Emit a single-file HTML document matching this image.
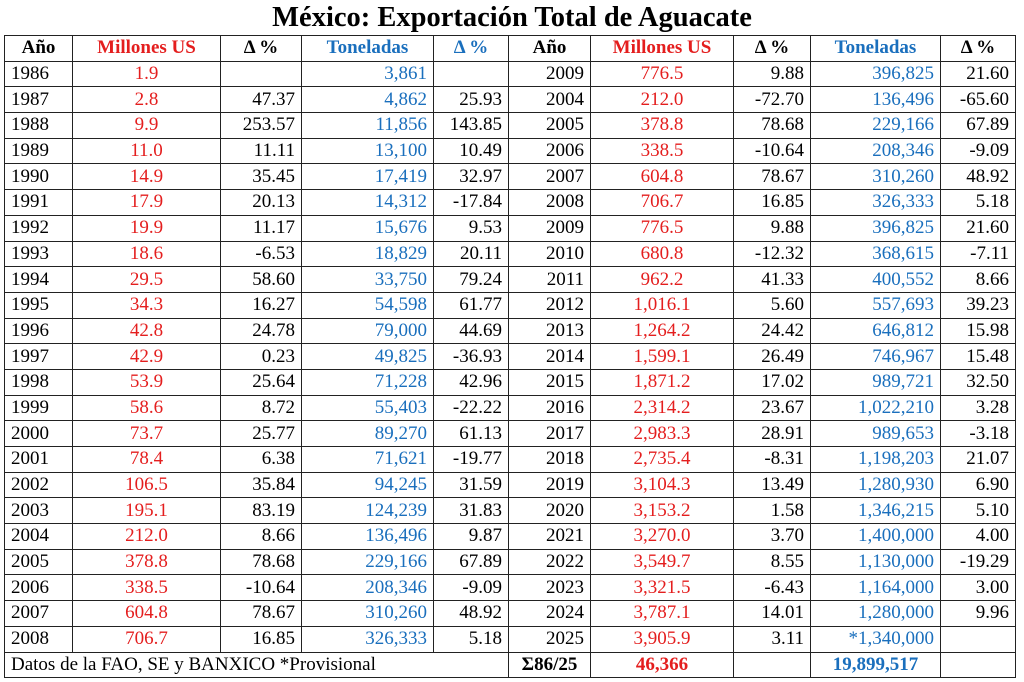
<!DOCTYPE html>
<html><head><meta charset="utf-8"><style>
body{margin:0;width:1024px;height:682px;background:#fff;font-family:"Liberation Serif",serif;overflow:hidden}
h1{position:absolute;top:0;left:0;width:1024px;margin:0;text-align:center;font-size:28.5px;line-height:35px;font-weight:bold;color:#000}
table{position:absolute;left:4px;top:35px;border-collapse:collapse;table-layout:fixed;width:1011px}
td,th{border:1.5px solid #222;height:24.7px;padding:0 6px;font-size:19px;line-height:24px;white-space:nowrap;overflow:hidden}
th{font-weight:bold;text-align:center}
.r{color:#e41e1e;text-align:center}.b{color:#1a6fbd;text-align:right}
.n{text-align:right}.y1{text-align:left}.y2{text-align:right}
</style></head><body>
<h1>México: Exportación Total de Aguacate</h1>
<table>
<colgroup><col style="width:68px"><col style="width:148px"><col style="width:81px"><col style="width:132px"><col style="width:75px"><col style="width:82px"><col style="width:143px"><col style="width:77px"><col style="width:130px"><col style="width:75px"></colgroup>
<tr><th>Año</th><th class="r">Millones US</th><th>Δ %</th><th class="b" style="text-align:center">Toneladas</th><th class="b" style="text-align:center">Δ %</th><th>Año</th><th class="r">Millones US</th><th>Δ %</th><th class="b" style="text-align:center">Toneladas</th><th>Δ %</th></tr>
<tr><td class="y1">1986</td><td class="r">1.9</td><td class="n"></td><td class="b">3,861</td><td class="n"></td><td class="y2">2009</td><td class="r">776.5</td><td class="n">9.88</td><td class="b">396,825</td><td class="n">21.60</td></tr>
<tr><td class="y1">1987</td><td class="r">2.8</td><td class="n">47.37</td><td class="b">4,862</td><td class="n">25.93</td><td class="y2">2004</td><td class="r">212.0</td><td class="n">-72.70</td><td class="b">136,496</td><td class="n">-65.60</td></tr>
<tr><td class="y1">1988</td><td class="r">9.9</td><td class="n">253.57</td><td class="b">11,856</td><td class="n">143.85</td><td class="y2">2005</td><td class="r">378.8</td><td class="n">78.68</td><td class="b">229,166</td><td class="n">67.89</td></tr>
<tr><td class="y1">1989</td><td class="r">11.0</td><td class="n">11.11</td><td class="b">13,100</td><td class="n">10.49</td><td class="y2">2006</td><td class="r">338.5</td><td class="n">-10.64</td><td class="b">208,346</td><td class="n">-9.09</td></tr>
<tr><td class="y1">1990</td><td class="r">14.9</td><td class="n">35.45</td><td class="b">17,419</td><td class="n">32.97</td><td class="y2">2007</td><td class="r">604.8</td><td class="n">78.67</td><td class="b">310,260</td><td class="n">48.92</td></tr>
<tr><td class="y1">1991</td><td class="r">17.9</td><td class="n">20.13</td><td class="b">14,312</td><td class="n">-17.84</td><td class="y2">2008</td><td class="r">706.7</td><td class="n">16.85</td><td class="b">326,333</td><td class="n">5.18</td></tr>
<tr><td class="y1">1992</td><td class="r">19.9</td><td class="n">11.17</td><td class="b">15,676</td><td class="n">9.53</td><td class="y2">2009</td><td class="r">776.5</td><td class="n">9.88</td><td class="b">396,825</td><td class="n">21.60</td></tr>
<tr><td class="y1">1993</td><td class="r">18.6</td><td class="n">-6.53</td><td class="b">18,829</td><td class="n">20.11</td><td class="y2">2010</td><td class="r">680.8</td><td class="n">-12.32</td><td class="b">368,615</td><td class="n">-7.11</td></tr>
<tr><td class="y1">1994</td><td class="r">29.5</td><td class="n">58.60</td><td class="b">33,750</td><td class="n">79.24</td><td class="y2">2011</td><td class="r">962.2</td><td class="n">41.33</td><td class="b">400,552</td><td class="n">8.66</td></tr>
<tr><td class="y1">1995</td><td class="r">34.3</td><td class="n">16.27</td><td class="b">54,598</td><td class="n">61.77</td><td class="y2">2012</td><td class="r">1,016.1</td><td class="n">5.60</td><td class="b">557,693</td><td class="n">39.23</td></tr>
<tr><td class="y1">1996</td><td class="r">42.8</td><td class="n">24.78</td><td class="b">79,000</td><td class="n">44.69</td><td class="y2">2013</td><td class="r">1,264.2</td><td class="n">24.42</td><td class="b">646,812</td><td class="n">15.98</td></tr>
<tr><td class="y1">1997</td><td class="r">42.9</td><td class="n">0.23</td><td class="b">49,825</td><td class="n">-36.93</td><td class="y2">2014</td><td class="r">1,599.1</td><td class="n">26.49</td><td class="b">746,967</td><td class="n">15.48</td></tr>
<tr><td class="y1">1998</td><td class="r">53.9</td><td class="n">25.64</td><td class="b">71,228</td><td class="n">42.96</td><td class="y2">2015</td><td class="r">1,871.2</td><td class="n">17.02</td><td class="b">989,721</td><td class="n">32.50</td></tr>
<tr><td class="y1">1999</td><td class="r">58.6</td><td class="n">8.72</td><td class="b">55,403</td><td class="n">-22.22</td><td class="y2">2016</td><td class="r">2,314.2</td><td class="n">23.67</td><td class="b">1,022,210</td><td class="n">3.28</td></tr>
<tr><td class="y1">2000</td><td class="r">73.7</td><td class="n">25.77</td><td class="b">89,270</td><td class="n">61.13</td><td class="y2">2017</td><td class="r">2,983.3</td><td class="n">28.91</td><td class="b">989,653</td><td class="n">-3.18</td></tr>
<tr><td class="y1">2001</td><td class="r">78.4</td><td class="n">6.38</td><td class="b">71,621</td><td class="n">-19.77</td><td class="y2">2018</td><td class="r">2,735.4</td><td class="n">-8.31</td><td class="b">1,198,203</td><td class="n">21.07</td></tr>
<tr><td class="y1">2002</td><td class="r">106.5</td><td class="n">35.84</td><td class="b">94,245</td><td class="n">31.59</td><td class="y2">2019</td><td class="r">3,104.3</td><td class="n">13.49</td><td class="b">1,280,930</td><td class="n">6.90</td></tr>
<tr><td class="y1">2003</td><td class="r">195.1</td><td class="n">83.19</td><td class="b">124,239</td><td class="n">31.83</td><td class="y2">2020</td><td class="r">3,153.2</td><td class="n">1.58</td><td class="b">1,346,215</td><td class="n">5.10</td></tr>
<tr><td class="y1">2004</td><td class="r">212.0</td><td class="n">8.66</td><td class="b">136,496</td><td class="n">9.87</td><td class="y2">2021</td><td class="r">3,270.0</td><td class="n">3.70</td><td class="b">1,400,000</td><td class="n">4.00</td></tr>
<tr><td class="y1">2005</td><td class="r">378.8</td><td class="n">78.68</td><td class="b">229,166</td><td class="n">67.89</td><td class="y2">2022</td><td class="r">3,549.7</td><td class="n">8.55</td><td class="b">1,130,000</td><td class="n">-19.29</td></tr>
<tr><td class="y1">2006</td><td class="r">338.5</td><td class="n">-10.64</td><td class="b">208,346</td><td class="n">-9.09</td><td class="y2">2023</td><td class="r">3,321.5</td><td class="n">-6.43</td><td class="b">1,164,000</td><td class="n">3.00</td></tr>
<tr><td class="y1">2007</td><td class="r">604.8</td><td class="n">78.67</td><td class="b">310,260</td><td class="n">48.92</td><td class="y2">2024</td><td class="r">3,787.1</td><td class="n">14.01</td><td class="b">1,280,000</td><td class="n">9.96</td></tr>
<tr><td class="y1">2008</td><td class="r">706.7</td><td class="n">16.85</td><td class="b">326,333</td><td class="n">5.18</td><td class="y2">2025</td><td class="r">3,905.9</td><td class="n">3.11</td><td class="b">*1,340,000</td><td class="n"></td></tr>
<tr><td colspan="5" style="text-align:left">Datos de la FAO, SE y BANXICO *Provisional</td><td style="text-align:center;font-weight:bold">Σ86/25</td><td class="r" style="font-weight:bold">46,366</td><td></td><td class="b" style="font-weight:bold;text-align:center">19,899,517</td><td></td></tr>
</table>
</body></html>
